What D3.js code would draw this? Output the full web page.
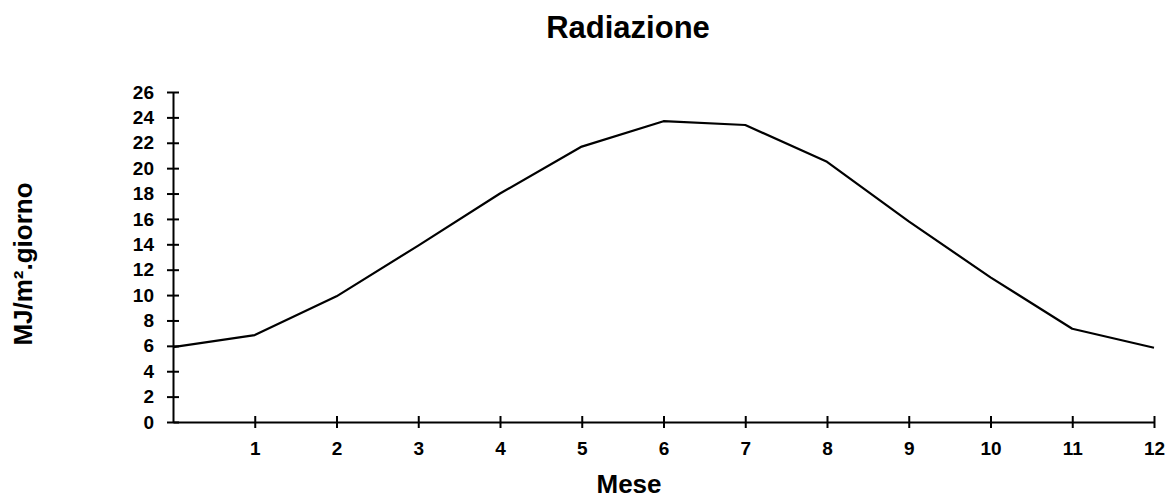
<!DOCTYPE html>
<html>
<head>
<meta charset="utf-8">
<script src="https://cdn.jsdelivr.net/npm/d3@7"></script>
<style>
  body { margin: 0; background: #fff; }
  svg { display: block; }
  svg text { font-family: "Liberation Sans", Arial, sans-serif; font-weight: bold; fill: #000; }
</style>
</head>
<body>
<div id="chart"></div>
<script>
// dati
const mesi = [0, 1, 2, 3, 4, 5, 6, 7, 8, 9, 10, 11, 12];
const radiazione = [5.9, 6.85, 9.9, 13.9, 18.0, 21.7, 23.7, 23.4, 20.5, 15.8, 11.4, 7.35, 5.85];
const yTicks = d3.range(0, 27, 2);
const xTicks = [1, 2, 3, 4, 5, 6, 7, 8, 9, 10, 11, 12];

const width = 1168, height = 498;
const margin = { left: 173, right: 14, top: 92, bottom: 76 };
const innerWidth = width - margin.left - margin.right;
const innerHeight = height - margin.top - margin.bottom;

const svg = d3.select("#chart").append("svg")
  .attr("width", width)
  .attr("height", height);

const g = svg.append("g")
  .attr("transform", `translate(${margin.left}, ${margin.top})`);

const x = d3.scaleLinear().domain([0, 12]).range([0, innerWidth]);
const y = d3.scaleLinear().domain([0, 26]).range([innerHeight, 0]);

// asse X (tacche che attraversano l'asse)
const xAxis = g.append("g")
  .attr("transform", `translate(0, ${innerHeight})`)
  .call(d3.axisBottom(x).tickValues(xTicks).tickSize(0).tickPadding(20).tickFormat(d3.format("d")));
xAxis.select(".domain").attr("stroke-width", 2).attr("stroke", "#000");
xAxis.selectAll(".tick line").attr("y1", -6).attr("y2", 6).attr("stroke-width", 2);
xAxis.selectAll("text").style("font-size", "19px");

// asse Y
const yAxis = g.append("g")
  .call(d3.axisLeft(y).tickValues(yTicks).tickSize(0).tickPadding(19));
yAxis.select(".domain").attr("stroke-width", 2).attr("stroke", "#000");
yAxis.selectAll(".tick line").attr("x1", -6).attr("x2", 6).attr("stroke-width", 2);
yAxis.selectAll("text").style("font-size", "19px");

// linea
const line = d3.line()
  .x((d, i) => x(mesi[i]))
  .y(d => y(d));

g.append("path")
  .datum(radiazione)
  .attr("fill", "none")
  .attr("stroke", "#000")
  .attr("stroke-width", 2.2)
  .attr("stroke-linejoin", "round")
  .attr("d", line);

// titoli
svg.append("text")
  .attr("x", 628)
  .attr("y", 38)
  .attr("text-anchor", "middle")
  .style("font-size", "31px")
  .text("Radiazione");

svg.append("text")
  .attr("x", 629)
  .attr("y", 493)
  .attr("text-anchor", "middle")
  .style("font-size", "26px")
  .text("Mese");

svg.append("text")
  .attr("transform", "rotate(-90)")
  .attr("x", -264)
  .attr("y", 32)
  .attr("text-anchor", "middle")
  .style("font-size", "26px")
  .text("MJ/m².giorno");
</script>
</body>
</html>
